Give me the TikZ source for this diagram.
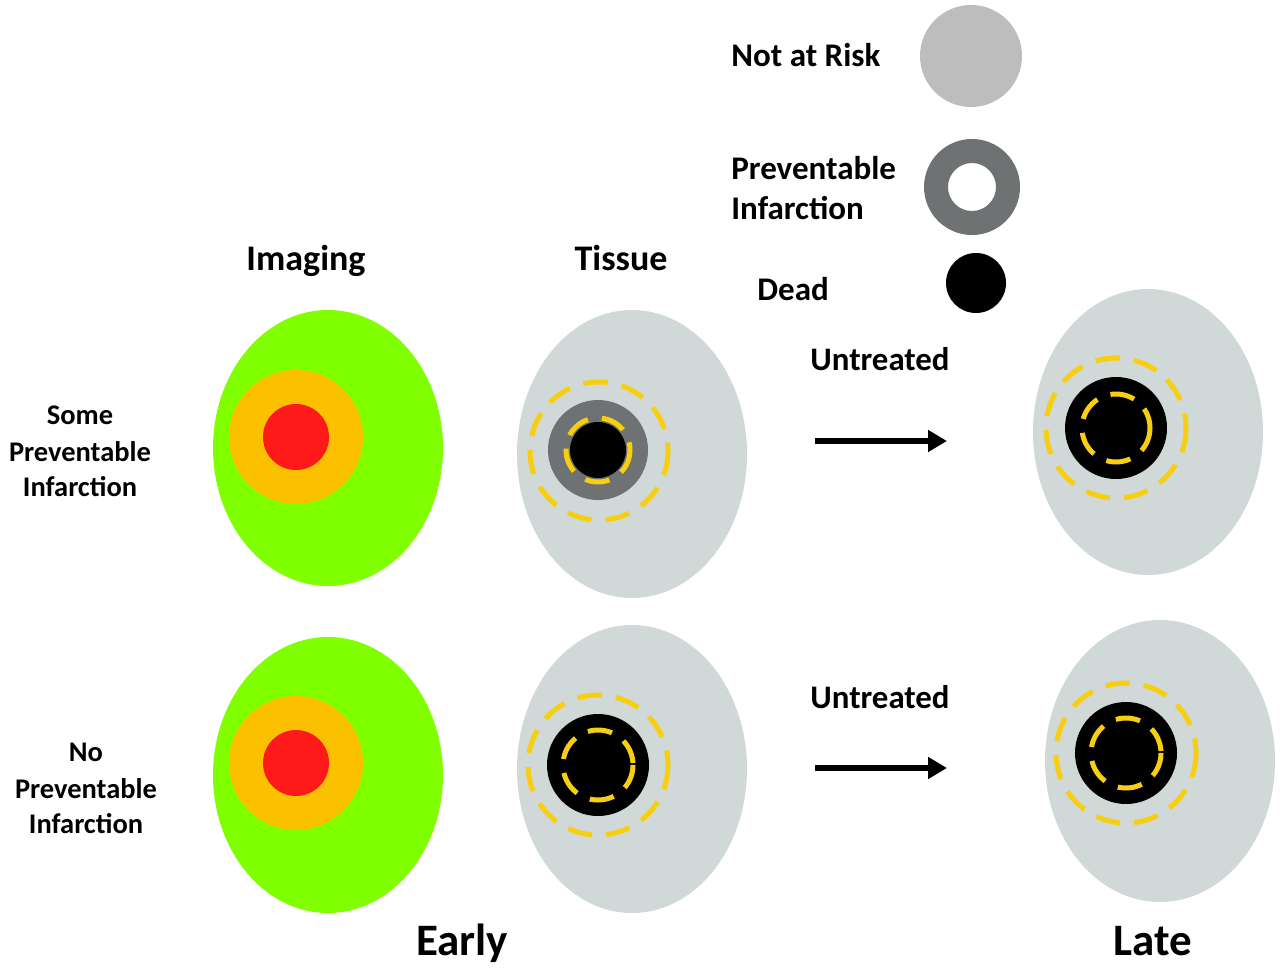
\documentclass[tikz,border=0pt]{standalone}
\usepackage{fontspec}
\setmainfont{Carlito}
\usetikzlibrary{arrows.meta}
\definecolor{imggreen}{HTML}{80FF00}
\definecolor{imgorange}{HTML}{FBC000}
\definecolor{imgred}{HTML}{FF1A1A}
\definecolor{tissuegray}{HTML}{D0D8D8}
\definecolor{riskgray}{HTML}{BDBDBD}
\definecolor{ringgray}{HTML}{6E7272}
\definecolor{dashyellow}{HTML}{F8CF10}
\tikzset{
  lbl/.style={inner sep=0pt, anchor=base, font=\bfseries\fontsize{16.2}{19}\selectfont},
  head/.style={inner sep=0pt, anchor=base, font=\bfseries\fontsize{20.5}{24}\selectfont},
  leg/.style={inner sep=0pt, anchor=base west, font=\bfseries\fontsize{18.8}{22}\selectfont},
  big/.style={inner sep=0pt, anchor=base, font=\bfseries\fontsize{25.6}{30}\selectfont},
  ydash/.style={draw=dashyellow, line width=0.1cm, dash pattern=on 14pt off 8pt},
  arr/.style={line width=0.13cm, -{Triangle[length=0.38cm,width=0.42cm]}},
}
\begin{document}
\begin{tikzpicture}[x=0.02cm,y=-0.02cm]
\useasboundingbox (0,0) rectangle (1280,973);
% legend
\fill[riskgray] (971,56) circle[radius=51];
\fill[ringgray,even odd rule] (972,187) circle[radius=48] (972,187) circle[radius=24];
\fill[black] (976,283) circle[radius=30];
\node[leg] (lnar) at (731,67) {Not at Risk};
\node[leg] (lprev) at (731,179) {Preventable};
\node[leg] (linf) at (731,219) {Infarction};
\node[leg] (ldead) at (757,300) {Dead};
% headings
\node[head] (himg) at (306,270) {Imaging};
\node[head] (htis) at (621,270) {Tissue};
% row labels
\node[lbl] (s1) at (80,424) {Some};
\node[lbl] (s2) at (80,461) {Preventable};
\node[lbl] (s3) at (80,496) {Infarction};
\node[lbl] (n1) at (86,761) {No};
\node[lbl] (n2) at (86,798) {Preventable};
\node[lbl] (n3) at (86,833) {Infarction};
% imaging row 1
\fill[imggreen] (328,448) ellipse[x radius=115, y radius=138];
\fill[imgorange] (296,437) circle[radius=67];
\fill[imgred] (296,437) circle[radius=33];
% imaging row 2
\fill[imggreen] (328,775) ellipse[x radius=115, y radius=138];
\fill[imgorange] (296,763) circle[radius=67];
\fill[imgred] (296,763) circle[radius=33];
% tissue row 1
\fill[tissuegray] (632,454) ellipse[x radius=115, y radius=144];
\fill[ringgray] (598,450) circle[radius=50];
\fill[black] (598,450) circle[radius=28];
\draw[ydash] (598,450) circle[radius=32];
\draw[ydash] (599,451) circle[radius=69];
% tissue row 2
\fill[tissuegray] (632,769) ellipse[x radius=115, y radius=144];
\fill[black] (598,765) circle[radius=51];
\draw[ydash] (598,765) circle[radius=35];
\draw[ydash] (598,765) circle[radius=70];
% late row 1
\fill[tissuegray] (1148,432) ellipse[x radius=115, y radius=143];
\fill[black] (1116,428) circle[radius=51];
\draw[ydash] (1116,428) circle[radius=34];
\draw[ydash] (1116,428) circle[radius=70];
% late row 2
\fill[tissuegray] (1160,761) ellipse[x radius=115, y radius=141];
\fill[black] (1126,753) circle[radius=51];
\draw[ydash] (1126,753) circle[radius=35];
\draw[ydash] (1126,753) circle[radius=70];
% arrows
\node[head,font=\bfseries\fontsize{18.7}{22}\selectfont] (u1) at (880,370) {Untreated};
\node[head,font=\bfseries\fontsize{18.7}{22}\selectfont] (u2) at (880,708) {Untreated};
\coordinate (a1s) at (815,441);
\coordinate (a1e) at (947,441);
\coordinate (a2s) at (815,768);
\coordinate (a2e) at (947,768);
\draw[arr] (a1s) -- (a1e);
\draw[arr] (a2s) -- (a2e);
% bottom
\node[big] (early) at (462,955) {Early};
\node[big] (late) at (1153,955) {Late};
\end{tikzpicture}
\end{document}
